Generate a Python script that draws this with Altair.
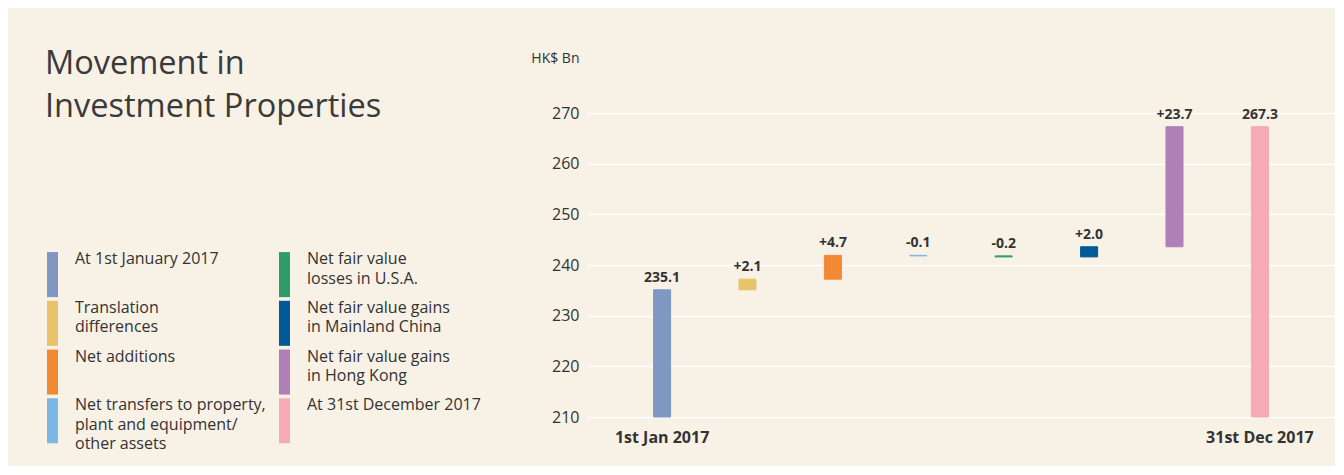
import altair as alt
import pandas as pd

# ---- data ----
categories = [
    "At 1st January 2017",
    "Translation differences",
    "Net additions",
    "Net transfers to property, plant and equipment/ other assets",
    "Net fair value losses in U.S.A.",
    "Net fair value gains in Mainland China",
    "Net fair value gains in Hong Kong",
    "At 31st December 2017",
]
legend_text = [
    "At 1st January 2017",
    "Translation\ndifferences",
    "Net additions",
    "Net transfers to property,\nplant and equipment/\nother assets",
    "Net fair value\nlosses in U.S.A.",
    "Net fair value gains\nin Mainland China",
    "Net fair value gains\nin Hong Kong",
    "At 31st December 2017",
]
kinds = ["total", "delta", "delta", "delta", "delta", "delta", "delta", "total"]
values = [235.1, 2.1, 4.7, -0.1, -0.2, 2.0, 23.7, 267.3]
value_labels = ["235.1", "+2.1", "+4.7", "-0.1", "-0.2", "+2.0", "+23.7", "267.3"]
axis_labels = ["1st Jan 2017", "", "", "", "", "", "", "31st Dec 2017"]
colors = ["#7F98C3", "#E7C46A", "#F28A35", "#7BB8E6",
          "#2E9C67", "#005A97", "#B07FB6", "#F5AAB4"]
y_ticks = [210, 220, 230, 240, 250, 260, 270]

Y_MIN, Y_MAX = 210, 270
BG = "#F8F1E6"
TXT = "#333333"
FONT = "Open Sans"

# ---- waterfall table ----
rows = []
running = 0.0
for c, k, v, lab in zip(categories, kinds, values, value_labels):
    if k == "total":
        start, end = Y_MIN, v
        running = v
    else:
        start, end = running, running + v
        running = end
    rows.append({"cat": c, "start": start, "end": end,
                 "top": max(start, end), "label": lab})
df = pd.DataFrame(rows)

color_scale = alt.Scale(domain=categories, range=colors)

label_expr = "[{}][indexof([{}], datum.value)]".format(
    ",".join("'" + a + "'" for a in axis_labels),
    ",".join("'" + c + "'" for c in categories),
)

xenc = alt.X(
    "cat:N", sort=categories, title=None,
    scale=alt.Scale(paddingInner=0.8007, paddingOuter=0.7797),
    axis=alt.Axis(labelExpr=label_expr, labelAngle=0, ticks=False, domain=False,
                  grid=False, labelFont=FONT, labelFontSize=16, labelFontWeight="bold",
                  labelColor=TXT, labelPadding=12),
)

bars = alt.Chart(df).mark_bar(strokeWidth=1).encode(
    x=xenc,
    y=alt.Y("start:Q", scale=alt.Scale(domain=[Y_MIN, Y_MAX], zero=False, nice=False),
            title="HK$ Bn",
            axis=alt.Axis(values=y_ticks, grid=True, gridColor="white", gridWidth=1.5,
                          domain=False, ticks=False, labelFont=FONT, labelFontSize=16,
                          labelColor=TXT, labelPadding=8,
                          titleFont=FONT, titleFontSize=14, titleFontWeight="normal",
                          titleColor=TXT, titleAngle=0, titleAlign="right",
                          titleBaseline="alphabetic", titleX=-8, titleY=-51)),
    y2="end:Q",
    color=alt.Color("cat:N", scale=color_scale, legend=None),
    stroke=alt.Color("cat:N", scale=color_scale, legend=None),
)

labels = alt.Chart(df).mark_text(
    font=FONT, fontSize=14, fontWeight="bold", color=TXT,
    baseline="alphabetic", dy=-8,
).encode(
    x=alt.X("cat:N", sort=categories),
    y=alt.Y("top:Q"),
    text="label:N",
)

main = alt.layer(bars, labels).properties(width=748, height=304)

# ---- legend panel ----
ROW_PX = 48.7
SWATCH_FRAC = 45 / ROW_PX
LEG_TOP_GAP = 139 / ROW_PX  # legend starts below the plot-area top
leg = pd.DataFrame({
    "cat": categories,
    "text": legend_text,
    "col": [i // 4 for i in range(len(categories))],
    "row": [i % 4 for i in range(len(categories))],
})

lx = alt.X("col:Q", scale=alt.Scale(domain=[0, 2], nice=False, zero=False), axis=None)
ly = alt.Y("row:Q", scale=alt.Scale(domain=[-LEG_TOP_GAP, 4], reverse=True,
                                    nice=False, zero=False), axis=None)

sw = alt.Chart(leg).transform_calculate(
    row2=f"datum.row + {SWATCH_FRAC}"
).mark_rule(strokeWidth=11, xOffset=5.5, strokeCap="butt").encode(
    x=lx, y=ly, y2="row2:Q",
    color=alt.Color("cat:N", scale=color_scale, legend=None),
)

tx = alt.Chart(leg).mark_text(
    font=FONT, fontSize=16, color=TXT, align="left", baseline="top",
    dx=28, dy=-1, lineBreak="\n", lineHeight=19.5,
).encode(x=lx, y=ly, text="text:N")

legend_panel = alt.layer(sw, tx).properties(
    width=464, height=334,
    title=alt.Title(["Movement in", "Investment Properties"], anchor="start",
                    font=FONT, fontSize=32.5, fontWeight="normal", color="#3a3a3a",
                    lineHeight=43, offset=-10, dx=-2),
)

chart = alt.hconcat(legend_panel, main, spacing=19).properties(
    background=BG,
    padding={"left": 37, "top": 39, "right": 0, "bottom": 13},
).configure_view(stroke=None)

chart.save("out.html", embed_options={"renderer": "svg", "actions": False})
